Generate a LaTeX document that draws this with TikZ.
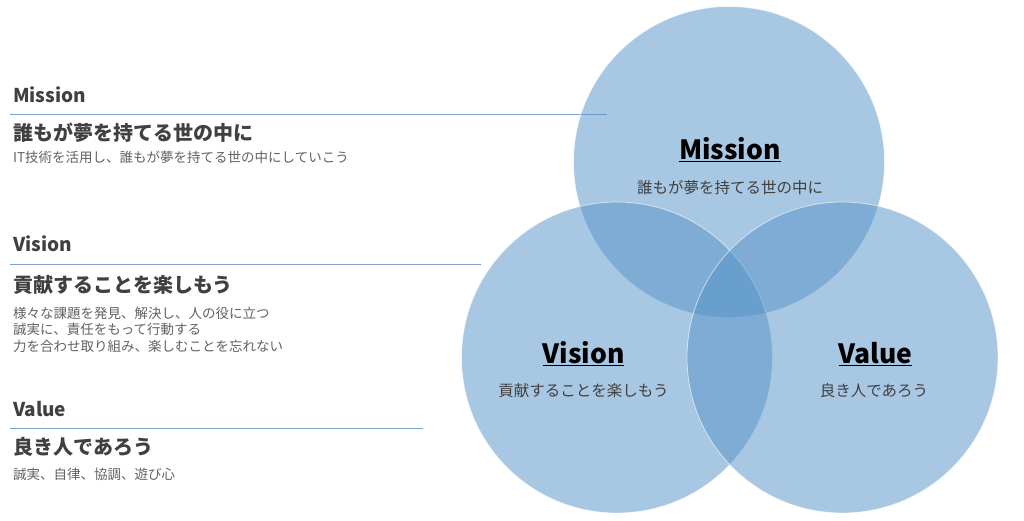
\documentclass[tikz,border=0pt]{standalone}
\usepackage{fontspec}
\setmainfont{Noto Sans CJK JP}
\definecolor{ringblue}{RGB}{86,147,200}
\definecolor{ruleblue}{RGB}{127,160,210}
\definecolor{headgray}{RGB}{64,64,64}
\definecolor{subgray}{RGB}{98,98,98}
\tikzset{
	ring/.style={circle, minimum size=311pt, inner sep=0pt, fill=ringblue, fill opacity=.51, draw=white, draw opacity=.6, line width=.8pt},
	head/.style={anchor=base west, inner sep=0pt, text=headgray, font=\fontsize{19}{19}\selectfont\bfseries},
	motto/.style={anchor=base west, inner sep=0pt, text=headgray, font=\fontsize{20}{20}\selectfont\bfseries},
	detail/.style={anchor=base west, inner sep=0pt, text=subgray, font=\fontsize{13.5}{13.5}\selectfont},
	title/.style={anchor=base, inner sep=0pt, text=black, font=\fontsize{26.5}{26.5}\selectfont\bfseries},
	caption/.style={anchor=base, inner sep=0pt, text=headgray, font=\fontsize{15.5}{15.5}\selectfont},
	rule/.style={draw=ruleblue, line width=1pt}
}
\begin{document}
\begin{tikzpicture}[x=1pt, y=-1pt]
		\fill[white] (0,0) rectangle (1024,520);
		\useasboundingbox (0,0) rectangle (1024,520);
		
		% left column
		\foreach \y/\x in {114.5/607, 264/481, 428/423}
		{
			\draw[rule] (10,\y)--(\x,\y);
		}
		\node[head] (missionH) at (13,102){Mission};
		\node[motto] (missionM) at (13,140.5){誰もが夢を持てる世の中に};
		\node[detail] (missionD) at (13,162.5){IT技術を活用し、誰もが夢を持てる世の中にしていこう};
		
		\node[head] (visionH) at (13,251){Vision};
		\node[motto] (visionM) at (13,292){貢献することを楽しもう};
		\node[detail] (visionD1) at (13,318){様々な課題を発見、解決し、人の役に立つ};
		\node[detail] (visionD2) at (13,334.5){誠実に、責任をもって行動する};
		\node[detail] (visionD3) at (13,351){力を合わせ取り組み、楽しむことを忘れない};
		
		\node[head] (valueH) at (13,416){Value};
		\node[motto] (valueM) at (13,454){良き人であろう};
		\node[detail] (valueD) at (13,479){誠実、自律、協調、遊び心};
		
		% circles
		\foreach \n/\x/\y in {mission/729/162, vision/617/357.5, value/842.5/357.5}
		{
			\node[ring] (\n) at (\x,\y){};
		}
		\node[title] (missionT) at (730,159){\underline{Mission}};
		\node[caption] (missionC) at (730,193){誰もが夢を持てる世の中に};
		\node[title] (visionT) at (583.5,363){\underline{Vision}};
		\node[caption] (visionC) at (583.5,396){貢献することを楽しもう};
		\node[title] (valueT) at (875.5,363){\underline{Value}};
		\node[caption] (valueC) at (874,396){良き人であろう};
\end{tikzpicture}
\end{document}
